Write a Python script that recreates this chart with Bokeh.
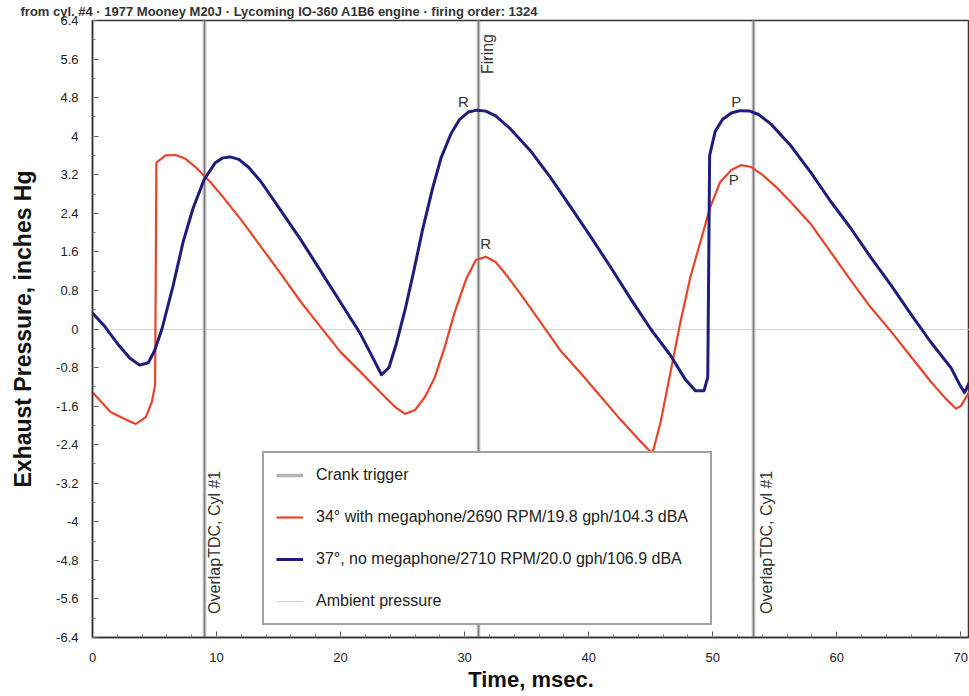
import math
from bokeh.plotting import figure
from bokeh.models import Range1d, FixedTicker, Label, Legend, LegendItem, Title
from bokeh.embed import file_html
from bokeh.resources import INLINE

# ---------------- data ----------------
title_text = "from cyl. #4 \u00b7 1977 Mooney M20J \u00b7 Lycoming IO-360 A1B6 engine \u00b7 firing order: 1324"

blue_t = [0.0, 1.0, 2.0, 3.0, 3.8, 4.5, 5.0, 5.6, 6.5, 7.3, 8.1, 9.0, 9.9, 10.5, 11.1, 11.8, 12.6, 13.6,
          15.2, 16.8, 18.4, 20.0, 21.6, 22.6, 23.3, 23.9, 24.5, 25.2, 25.9, 26.6, 27.4, 28.1, 28.9,
          29.6, 30.3, 31.0, 31.7, 32.5, 33.7, 35.3, 36.9, 38.5, 40.2, 41.8, 43.4, 45.0, 46.6, 47.8,
          48.6, 49.3, 49.6, 49.75, 50.2, 50.8, 51.5, 52.2, 53.0, 53.7, 54.7, 56.3, 57.9, 59.5, 61.1,
          62.7, 64.4, 66.0, 67.6, 69.2, 69.9, 70.3, 70.7]
blue_p = [0.33, 0.05, -0.3, -0.6, -0.75, -0.7, -0.45, 0.0, 0.9, 1.8, 2.5, 3.1, 3.45, 3.55, 3.57, 3.52,
          3.35, 3.05, 2.45, 1.85, 1.2, 0.55, -0.1, -0.6, -0.95, -0.8, -0.3, 0.4, 1.2, 2.05, 2.9, 3.55,
          4.05, 4.35, 4.5, 4.54, 4.52, 4.42, 4.15, 3.7, 3.15, 2.55, 1.9, 1.27, 0.62, 0.0, -0.55, -1.05,
          -1.28, -1.28, -1.0, 3.6, 4.1, 4.35, 4.48, 4.53, 4.52, 4.45, 4.25, 3.8, 3.25, 2.65, 2.1, 1.5,
          0.9, 0.3, -0.28, -0.8, -1.15, -1.32, -1.1]

red_t = [0.0, 1.45, 3.1, 3.5, 4.3, 4.8, 5.05, 5.15, 5.9, 6.7, 7.5, 8.3, 9.5, 10.7, 12.0, 13.6, 15.2,
         16.8, 18.4, 20.0, 21.6, 23.2, 24.4, 25.2, 26.0, 26.8, 27.6, 28.4, 29.2, 30.1, 30.9, 31.7,
         32.5, 33.3, 34.5, 36.1, 37.7, 39.4, 41.0, 42.6, 44.2, 45.0, 45.2, 45.8, 46.6, 47.4, 48.2,
         49.0, 49.8, 50.6, 51.5, 52.3, 53.1, 53.9, 55.1, 56.3, 57.9, 59.5, 61.1, 62.7, 64.4, 66.0,
         67.6, 68.8, 69.6, 70.0, 70.7]
red_p = [-1.31, -1.72, -1.93, -1.97, -1.83, -1.5, -1.15, 3.45, 3.6, 3.61, 3.53, 3.36, 3.05, 2.68,
         2.26, 1.7, 1.14, 0.56, 0.04, -0.48, -0.89, -1.31, -1.62, -1.76, -1.68, -1.41, -1.0, -0.37,
         0.35, 1.02, 1.43, 1.5, 1.39, 1.14, 0.73, 0.15, -0.44, -0.93, -1.41, -1.89, -2.34, -2.55,
         -2.52, -1.93, -0.89, 0.15, 1.08, 1.8, 2.53, 3.05, 3.3, 3.4, 3.36, 3.22, 2.95, 2.63, 2.18,
         1.6, 1.02, 0.46, -0.06, -0.58, -1.1, -1.45, -1.65, -1.6, -1.3]

crank_times = [9.0, 31.1, 53.3]
ambient = [0.0]

series_names = ["Crank trigger",
                "34\u00b0 with megaphone/2690 RPM/19.8 gph/104.3 dBA",
                "37\u00b0, no megaphone/2710 RPM/20.0 gph/106.9 dBA",
                "Ambient pressure"]

x_ticks = [0, 10, 20, 30, 40, 50, 60, 70]
x_minor = [i * 2 for i in range(36)]
y_ticks = [-6.4, -5.6, -4.8, -4.0, -3.2, -2.4, -1.6, -0.8, 0.0, 0.8, 1.6, 2.4, 3.2, 4.0, 4.8, 5.6, 6.4]
y_tick_labels = ["-6.4", "-5.6", "-4.8", "-4", "-3.2", "-2.4", "-1.6", "-0.8", "0",
                 "0.8", "1.6", "2.4", "3.2", "4", "4.8", "5.6", "6.4"]
y_minor = [round(-6.4 + 0.4 * i, 2) for i in range(33)]

peak_labels = ["R", "R", "P", "P"]
peak_t = [29.9, 31.7, 51.9, 51.7]
peak_p = [4.71, 1.78, 4.71, 3.11]

event_labels = ["OverlapTDC, Cyl #1", "Firing", "OverlapTDC, Cyl #1"]
event_t = [9.84, 31.85, 54.35]
event_p = [-5.91, 5.29, -5.91]

FONT = "Liberation Sans"

p = figure(width=969, height=696, output_backend="svg", toolbar_location=None,
           x_range=Range1d(0, 70.7), y_range=Range1d(-6.4, 6.4),
           min_border_left=92, min_border_right=0, min_border_top=20, min_border_bottom=59)
p.title = Title(text=title_text, align="left", offset=-72, text_font=FONT,
                text_font_size="13px", text_font_style="bold", text_color="#333333",
                vertical_align="top", standoff=0)
p.background_fill_color = "white"
p.border_fill_color = "white"
p.xgrid.visible = False
p.ygrid.visible = False
p.outline_line_color = "#333333"
p.outline_line_width = 1.5

# axes
p.xaxis.ticker = FixedTicker(ticks=x_ticks, minor_ticks=x_minor)
p.yaxis.ticker = FixedTicker(ticks=y_ticks, minor_ticks=y_minor)
p.yaxis.major_label_overrides = {t: s for t, s in zip(y_ticks, y_tick_labels)}
for ax in (p.xaxis[0], p.yaxis[0]):
    ax.axis_line_color = "#333333"
    ax.axis_line_width = 1.5
    ax.major_tick_in = 6
    ax.major_tick_out = 0
    ax.minor_tick_in = 3
    ax.minor_tick_out = 0
    ax.major_tick_line_color = "#555555"
    ax.minor_tick_line_color = "#777777"
    ax.major_label_text_font = FONT
    ax.major_label_text_font_size = "13px"
    ax.major_label_text_color = "#222222"
    ax.axis_label_text_font = FONT
    ax.axis_label_text_font_style = "bold"
    ax.axis_label_text_font_size = "22px"
    ax.axis_label_text_color = "#111111"
p.yaxis.axis_label_text_font_size = "23px"
p.xaxis.axis_label = "Time, msec."
p.yaxis.axis_label = "Exhaust Pressure, inches Hg"
p.xaxis.major_label_standoff = 15
p.xaxis.axis_label_standoff = 2
p.yaxis.major_label_standoff = 14
p.yaxis.axis_label_standoff = 17

# reference lines
amb = p.hspan(y=ambient, line_color="#d6d6d6", line_width=1.2)
crank = p.vspan(x=crank_times, line_color="#b4b4b4", line_width=3.5)
p.vspan(x=crank_times, line_color="#808080", line_width=1)

# curves
red = p.line(red_t, red_p, line_color="#e8442a", line_width=2.2, line_join="round")
blue = p.line(blue_t, blue_p, line_color="#1f1c7c", line_width=3, line_join="round")

# labels
for s, t, v in zip(peak_labels, peak_t, peak_p):
    p.add_layout(Label(x=t, y=v, text=s, text_align="center", text_baseline="middle",
                       text_font=FONT, text_font_size="15px", text_color="#333333"))
for s, t, v in zip(event_labels, event_t, event_p):
    p.add_layout(Label(x=t, y=v, text=s, angle=math.pi / 2, text_align="left",
                       text_baseline="middle", text_font=FONT, text_font_size="16px",
                       text_color="#333333"))

legend = Legend(items=[LegendItem(label=series_names[0], renderers=[crank]),
                       LegendItem(label=series_names[1], renderers=[red]),
                       LegendItem(label=series_names[2], renderers=[blue]),
                       LegendItem(label=series_names[3], renderers=[amb])],
                location=(170, 12))
legend.label_text_font = FONT
legend.label_text_font_size = "16px"
legend.label_text_color = "#222222"
legend.border_line_color = "#444444"
legend.border_line_width = 2
legend.background_fill_color = "white"
legend.background_fill_alpha = 1
legend.padding = 12
legend.spacing = 22
legend.glyph_width = 27
legend.glyph_height = 20
legend.label_height = 20
legend.label_width = 382
legend.label_standoff = 13
legend.margin = 0
p.add_layout(legend)

open("out.html", "w").write(file_html(p, INLINE))
